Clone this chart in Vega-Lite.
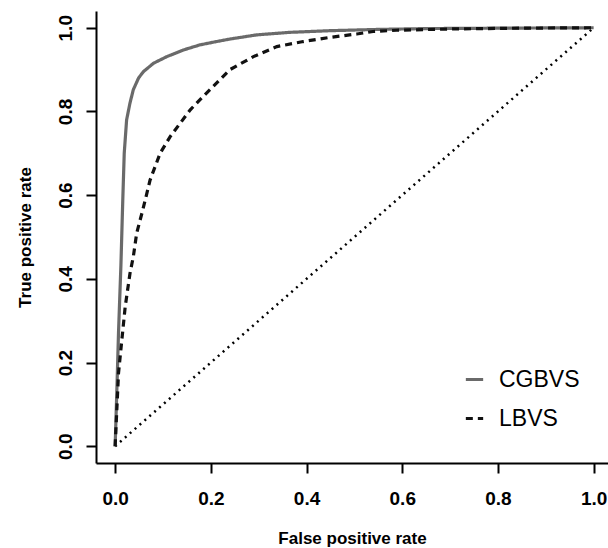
{
  "$schema": "https://vega.github.io/schema/vega-lite/v6.json",
  "width": 512,
  "height": 452,
  "autosize": {"type": "none"},
  "padding": {"left": 96, "top": 11, "right": 0, "bottom": 85},
  "background": "white",
  "config": {"view": {"stroke": null}, "font": "Liberation Sans"},
  "datasets": {
    "roc": [
      {"fpr": 0, "tpr": 0, "method": "CGBVS"},
      {"fpr": 0.004, "tpr": 0.15, "method": "CGBVS"},
      {"fpr": 0.007, "tpr": 0.27, "method": "CGBVS"},
      {"fpr": 0.012, "tpr": 0.43, "method": "CGBVS"},
      {"fpr": 0.016, "tpr": 0.59, "method": "CGBVS"},
      {"fpr": 0.019, "tpr": 0.70, "method": "CGBVS"},
      {"fpr": 0.024, "tpr": 0.78, "method": "CGBVS"},
      {"fpr": 0.031, "tpr": 0.82, "method": "CGBVS"},
      {"fpr": 0.038, "tpr": 0.852, "method": "CGBVS"},
      {"fpr": 0.049, "tpr": 0.88, "method": "CGBVS"},
      {"fpr": 0.059, "tpr": 0.895, "method": "CGBVS"},
      {"fpr": 0.08, "tpr": 0.915, "method": "CGBVS"},
      {"fpr": 0.108, "tpr": 0.931, "method": "CGBVS"},
      {"fpr": 0.143, "tpr": 0.947, "method": "CGBVS"},
      {"fpr": 0.177, "tpr": 0.959, "method": "CGBVS"},
      {"fpr": 0.212, "tpr": 0.967, "method": "CGBVS"},
      {"fpr": 0.24, "tpr": 0.973, "method": "CGBVS"},
      {"fpr": 0.296, "tpr": 0.983, "method": "CGBVS"},
      {"fpr": 0.365, "tpr": 0.989, "method": "CGBVS"},
      {"fpr": 0.45, "tpr": 0.993, "method": "CGBVS"},
      {"fpr": 0.55, "tpr": 0.996, "method": "CGBVS"},
      {"fpr": 0.65, "tpr": 0.998, "method": "CGBVS"},
      {"fpr": 0.8, "tpr": 0.999, "method": "CGBVS"},
      {"fpr": 1, "tpr": 1, "method": "CGBVS"},
      {"fpr": 0, "tpr": 0, "method": "LBVS"},
      {"fpr": 0.007, "tpr": 0.174, "method": "LBVS"},
      {"fpr": 0.014, "tpr": 0.254, "method": "LBVS"},
      {"fpr": 0.021, "tpr": 0.333, "method": "LBVS"},
      {"fpr": 0.031, "tpr": 0.413, "method": "LBVS"},
      {"fpr": 0.038, "tpr": 0.453, "method": "LBVS"},
      {"fpr": 0.045, "tpr": 0.509, "method": "LBVS"},
      {"fpr": 0.056, "tpr": 0.557, "method": "LBVS"},
      {"fpr": 0.063, "tpr": 0.589, "method": "LBVS"},
      {"fpr": 0.073, "tpr": 0.636, "method": "LBVS"},
      {"fpr": 0.094, "tpr": 0.70, "method": "LBVS"},
      {"fpr": 0.115, "tpr": 0.74, "method": "LBVS"},
      {"fpr": 0.136, "tpr": 0.772, "method": "LBVS"},
      {"fpr": 0.157, "tpr": 0.804, "method": "LBVS"},
      {"fpr": 0.184, "tpr": 0.836, "method": "LBVS"},
      {"fpr": 0.205, "tpr": 0.86, "method": "LBVS"},
      {"fpr": 0.24, "tpr": 0.90, "method": "LBVS"},
      {"fpr": 0.289, "tpr": 0.931, "method": "LBVS"},
      {"fpr": 0.338, "tpr": 0.955, "method": "LBVS"},
      {"fpr": 0.393, "tpr": 0.967, "method": "LBVS"},
      {"fpr": 0.449, "tpr": 0.977, "method": "LBVS"},
      {"fpr": 0.505, "tpr": 0.985, "method": "LBVS"},
      {"fpr": 0.539, "tpr": 0.991, "method": "LBVS"},
      {"fpr": 0.588, "tpr": 0.994, "method": "LBVS"},
      {"fpr": 0.7, "tpr": 0.997, "method": "LBVS"},
      {"fpr": 0.85, "tpr": 0.999, "method": "LBVS"},
      {"fpr": 1, "tpr": 1, "method": "LBVS"}
    ],
    "diag": [
      {"fpr": 0, "tpr": 0},
      {"fpr": 1, "tpr": 1}
    ]
  },
  "encoding": {
    "x": {
      "field": "fpr", "type": "quantitative",
      "scale": {"domain": [-0.04, 1.03], "nice": false, "zero": false},
      "axis": {
        "values": [0, 0.2, 0.4, 0.6, 0.8, 1.0], "format": ".1f", "grid": false,
        "domainColor": "black", "domainWidth": 2,
        "tickColor": "black", "tickWidth": 2, "tickSize": 10,
        "labelFontSize": 19, "labelFontWeight": "bold", "labelColor": "black", "labelPadding": 16,
        "title": "False positive rate", "titleFontSize": 17, "titleFontWeight": "bold", "titleColor": "black",
        "titleBaseline": "alphabetic", "titleY": 80
      }
    },
    "y": {
      "field": "tpr", "type": "quantitative",
      "scale": {"domain": [-0.04, 1.04], "nice": false, "zero": false},
      "axis": {
        "values": [0, 0.2, 0.4, 0.6, 0.8, 1.0], "format": ".1f", "grid": false,
        "domainColor": "black", "domainWidth": 2,
        "tickColor": "black", "tickWidth": 2, "tickSize": 10,
        "labelFontSize": 19, "labelFontWeight": "bold", "labelColor": "black",
        "labelAngle": -90, "labelAlign": "center", "labelBaseline": "alphabetic", "labelPadding": 15,
        "title": "True positive rate", "titleFontSize": 17, "titleFontWeight": "bold", "titleColor": "black",
        "titleBaseline": "alphabetic", "titleAngle": -90, "titleX": -66, "titleY": 226
      }
    }
  },
  "layer": [
    {
      "mark": {"type": "rule", "color": "black", "strokeWidth": 2},
      "encoding": {"y": {"datum": 1.04}, "x": null}
    },
    {
      "data": {"name": "diag"},
      "mark": {"type": "line", "color": "black", "strokeWidth": 2.5, "strokeDash": [2, 4.5]}
    },
    {
      "data": {"name": "roc"},
      "mark": {"type": "line", "strokeWidth": 3.2},
      "encoding": {
        "color": {
          "field": "method", "type": "nominal",
          "scale": {"domain": ["CGBVS", "LBVS"], "range": ["#6a6a6a", "#111111"]},
          "legend": {
            "title": null, "orient": "none", "legendX": 367, "legendY": 357,
            "symbolType": "stroke", "symbolSize": 300, "symbolStrokeWidth": 3,
            "labelFontSize": 23, "labelColor": "black", "labelOffset": 13, "rowPadding": 15
          }
        },
        "strokeDash": {
          "field": "method", "type": "nominal",
          "scale": {"domain": ["CGBVS", "LBVS"], "range": [[1, 0], [7, 5]]},
          "legend": null
        }
      }
    }
  ]
}
